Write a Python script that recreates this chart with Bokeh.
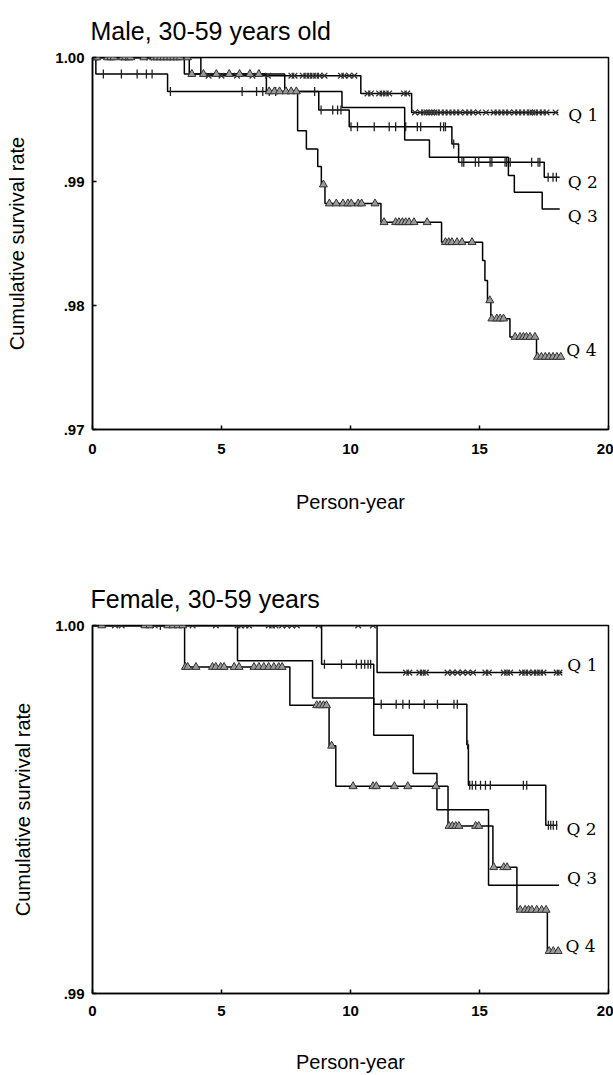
import numpy as np
from bokeh.plotting import figure
from bokeh.models import Range1d, FixedTicker, Label, Title
from bokeh.layouts import column
from bokeh.embed import file_html
from bokeh.resources import INLINE

# ---------------- shared axis data ----------------
x_ticks = [0, 5, 10, 15, 20]
x_tick_labels = ["0", "5", "10", "15", "20"]
x_label = "Person-year"
y_label = "Cumulative survival rate"
group_names = ["Q 1", "Q 2", "Q 3", "Q 4"]

# ---------------- Male, 30-59 years old ----------------
male_title = "Male, 30-59 years old"
male_y_ticks = [0.97, 0.98, 0.99, 1.00]
male_y_tick_labels = [".97", ".98", ".99", "1.00"]

male_q1_times = [4.20, 10.40, 12.37]
male_q1_surv = [0.99853, 0.99710, 0.99557]
male_q1_end = 18.05
male_q1_cens = [0.12, 1.2, 2.2, 4.5, 5.0, 5.6, 6.2, 6.8, 7.71, 7.83, 8.15, 8.29, 8.41,
                8.54, 8.67, 8.80, 8.99, 9.63, 9.76, 9.95, 10.15, 10.66, 10.79, 11.11,
                11.24, 11.37, 11.50, 12.07, 12.20, 12.5, 12.7, 12.85, 12.95, 13.05,
                13.15, 13.25, 13.35, 13.5, 13.65, 13.8, 13.95, 14.1, 14.25, 14.45,
                14.6, 14.75, 14.95, 15.25, 15.55, 15.7, 15.85, 16.0, 16.15, 16.35,
                16.5, 16.65, 16.8, 16.95, 17.05, 17.15, 17.3, 17.45, 17.6, 17.95]

male_q2_times = [0.13, 2.91, 8.77, 9.95, 13.93, 14.19, 17.51]
male_q2_surv = [0.99866, 0.99726, 0.99576, 0.99442, 0.99303, 0.99155, 0.99034]
male_q2_end = 18.11
male_q2_cens = [0.42, 1.12, 1.73, 2.09, 2.31, 3.02, 5.80, 6.36, 6.6, 6.85, 7.1, 8.61,
                8.86, 9.31, 9.50, 9.63, 10.02, 10.27, 10.92, 11.50, 11.75, 12.14,
                12.59, 12.72, 13.49, 13.61, 13.68, 14.00, 14.32, 14.39, 14.84, 14.97,
                15.41, 15.48, 15.99, 16.05, 16.19, 17.02, 17.27, 17.34, 17.66, 17.85,
                17.98]

male_q3_times = [3.56, 7.45, 9.67, 12.10, 13.06, 16.12, 16.35, 17.43]
male_q3_surv = [0.99866, 0.99726, 0.99597, 0.99335, 0.99195, 0.99048, 0.98913, 0.98779]
male_q3_end = 18.11

male_q4_times = [3.75, 6.74, 7.95, 8.29, 8.73, 8.87, 9.01, 11.18, 13.53, 15.12, 15.21,
                 15.31, 15.44, 16.18, 17.21]
male_q4_surv = [0.99866, 0.99726, 0.99410, 0.99262, 0.99120, 0.98975, 0.98822, 0.98671,
                0.98510, 0.98363, 0.98201, 0.98041, 0.97894, 0.97746, 0.97585]
male_q4_end = 18.17
male_q4_cens = [0.06, 0.17, 0.58, 0.71, 0.83, 1.16, 1.28, 1.41, 1.48, 1.99, 2.37, 2.50,
                2.63, 2.76, 2.89, 3.02, 3.14, 3.28, 3.40, 3.68, 3.85, 4.3, 4.8, 5.3,
                5.7, 6.1, 6.45, 6.85, 7.05, 7.25, 7.5, 7.7, 7.9, 8.95, 9.18, 9.45,
                9.71, 9.90, 10.03, 10.30, 10.43, 10.95, 11.30, 11.75, 11.88, 12.01,
                12.14, 12.27, 12.46, 12.97, 13.68, 13.81, 13.93, 14.13, 14.32, 14.71,
                15.40, 15.48, 15.67, 15.80, 15.93, 16.38, 16.57, 16.70, 16.82, 16.96,
                17.15, 17.25, 17.4, 17.55, 17.7, 17.85, 18.0, 18.15]

# ---------------- Female, 30-59 years ----------------
female_title = "Female, 30-59 years"
female_y_ticks = [0.99, 1.00]
female_y_tick_labels = [".99", "1.00"]

female_q1_times = [11.03]
female_q1_surv = [0.99872]
female_q1_end = 18.21
female_q1_cens = [0.87, 1.13, 2.41, 3.88, 4.78, 5.62, 5.74, 5.93, 6.07, 6.83, 6.96, 7.09,
                  7.35, 7.54, 7.73, 7.92, 8.76, 10.30, 10.87, 12.15, 12.28, 12.67, 12.8,
                  12.92, 13.76, 13.95, 14.15, 14.35, 14.55, 14.75, 15.23, 15.36, 15.94,
                  16.07, 16.19, 16.64, 16.77, 16.9, 17.09, 17.22, 17.35, 17.48, 17.99,
                  18.1]

female_q2_times = [8.88, 10.90, 14.51, 14.57, 17.57]
female_q2_surv = [0.99895, 0.99786, 0.99676, 0.99566, 0.99457]
female_q2_end = 18.02
female_q2_cens = [2.63, 8.99, 9.65, 10.23, 10.42, 10.55, 10.68, 10.78, 11.19, 11.77,
                  12.03, 12.28, 12.86, 13.37, 14.01, 14.14, 14.54, 14.62, 14.72, 14.85,
                  15.04, 15.23, 15.42, 16.7, 16.83, 17.67, 17.76, 17.86, 17.99]

female_q3_times = [5.62, 8.53, 10.90, 12.43, 13.35, 15.35]
female_q3_surv = [0.99904, 0.99803, 0.99702, 0.99598, 0.99499, 0.99294]
female_q3_end = 18.08

female_q4_times = [3.57, 7.65, 9.17, 9.43, 13.78, 15.52, 16.45, 17.63]
female_q4_surv = [0.99887, 0.99783, 0.99673, 0.99563, 0.99455, 0.99343, 0.99227, 0.99115]
female_q4_end = 18.14
female_q4_cens = [0.36, 2.03, 2.22, 2.92, 3.12, 3.31, 3.50, 3.60, 3.69, 4.01, 4.65, 4.78,
                  4.97, 5.10, 5.49, 5.68, 6.26, 6.45, 6.64, 6.83, 7.03, 7.22, 7.35, 8.69,
                  8.82, 8.95, 9.07, 9.27, 10.10, 10.87, 11.0, 11.70, 12.22, 13.31, 13.82,
                  13.95, 14.08, 14.20, 14.85, 14.97, 15.55, 15.94, 16.07, 16.58, 16.77,
                  16.9, 17.03, 17.22, 17.41, 17.58, 17.7, 17.86, 18.05]

SANS = "Liberation Sans"
SERIF = "DejaVu Serif"


def surv_at(ts, times, surv):
    idx = np.searchsorted(np.asarray(times), np.asarray(ts, dtype=float), side="right")
    full = np.concatenate([[1.0], np.asarray(surv)])
    return full[idx]


def make_panel(title, y_ticks, y_tick_labels, curves, height, borders, label_offsets,
               xlabel_standoff, ylabel_standoff, xtick_standoff, title_standoff):
    left, right, top, bottom = borders
    p = figure(width=613, height=height, x_range=Range1d(0, 20),
               y_range=Range1d(y_ticks[0], y_ticks[-1]), output_backend="svg",
               toolbar_location=None, title=None,
               min_border_left=left, min_border_right=right,
               min_border_top=top, min_border_bottom=bottom)
    p.background_fill_color = "white"
    p.border_fill_color = "white"
    p.xgrid.visible = False
    p.ygrid.visible = False
    p.outline_line_color = "black"
    p.outline_line_width = 1.5
    p.outline_line_alpha = 1.0

    for ax in (p.xaxis, p.yaxis):
        ax.axis_line_color = "black"
        ax.axis_line_width = 1.5
        ax.major_tick_line_color = "black"
        ax.major_tick_line_width = 1.5
        ax.minor_tick_line_color = None
        ax.major_tick_out = 0
        ax.major_tick_in = 4
        ax.major_label_text_font = SANS
        ax.major_label_text_font_style = "bold"
        ax.major_label_text_font_size = "15px"
        ax.major_label_text_color = "black"
        ax.axis_label_text_font = SANS
        ax.axis_label_text_font_style = "normal"
        ax.axis_label_text_font_size = "20px"
        ax.axis_label_text_color = "black"

    p.xaxis.ticker = FixedTicker(ticks=x_ticks)
    p.xaxis.major_label_overrides = dict(zip(x_ticks, x_tick_labels))
    p.xaxis.axis_label = x_label
    p.xaxis.major_label_standoff = xtick_standoff
    p.xaxis.axis_label_standoff = xlabel_standoff

    p.yaxis.ticker = FixedTicker(ticks=y_ticks)
    p.yaxis.major_label_overrides = dict(zip(y_ticks, y_tick_labels))
    p.yaxis.axis_label = y_label
    p.yaxis.major_label_standoff = 8
    p.yaxis.axis_label_standoff = ylabel_standoff

    # step curves
    for c in curves:
        xs = [0.0] + list(c["times"]) + [c["end"]]
        ys = [1.0] + list(c["surv"]) + [c["surv"][-1]]
        p.step(xs, ys, mode="after", line_color="black", line_width=1.5)

    # censoring marks
    for c in curves:
        if c.get("cens") is None:
            continue
        cy = surv_at(c["cens"], c["times"], c["surv"])
        if c["marker"] == "x":
            p.scatter(c["cens"], cy, marker="x", size=8, line_color="#333333",
                      line_width=1.3)
        elif c["marker"] == "cross":
            p.scatter(c["cens"], cy, marker="dash", angle=np.pi / 2, size=9,
                      line_color="#222222", line_width=1.3)
        else:
            p.scatter(c["cens"], cy, marker="triangle", size=8, fill_color="#9a9a9a",
                      line_color="#333333", line_width=1)

    # group labels at curve ends
    for c, name, (dx, dy) in zip(curves, group_names, label_offsets):
        p.add_layout(Label(x=c["end"], y=c["surv"][-1], x_offset=dx, y_offset=dy,
                           text=name, text_font=SERIF, text_font_size="17px",
                           text_baseline="middle", text_align="left",
                           text_color="black"))

    # panel title
    p.add_layout(Title(text=title, align="left", text_font=SANS,
                       text_font_size="25px", text_font_style="normal",
                       text_color="black", standoff=title_standoff, offset=-2), "above")
    return p


male_curves = [
    dict(times=male_q1_times, surv=male_q1_surv, end=male_q1_end, cens=male_q1_cens, marker="x"),
    dict(times=male_q2_times, surv=male_q2_surv, end=male_q2_end, cens=male_q2_cens, marker="cross"),
    dict(times=male_q3_times, surv=male_q3_surv, end=male_q3_end, cens=None, marker=None),
    dict(times=male_q4_times, surv=male_q4_surv, end=male_q4_end, cens=male_q4_cens, marker="triangle"),
]
female_curves = [
    dict(times=female_q1_times, surv=female_q1_surv, end=female_q1_end, cens=female_q1_cens, marker="x"),
    dict(times=female_q2_times, surv=female_q2_surv, end=female_q2_end, cens=female_q2_cens, marker="cross"),
    dict(times=female_q3_times, surv=female_q3_surv, end=female_q3_end, cens=None, marker=None),
    dict(times=female_q4_times, surv=female_q4_surv, end=female_q4_end, cens=female_q4_cens, marker="triangle"),
]

p1 = make_panel(male_title, male_y_ticks, male_y_tick_labels, male_curves, height=538,
                borders=(92, 2, 57, 109),
                label_offsets=[(10, -3), (8, -5), (8, -7), (5, 7)],
                xlabel_standoff=34, ylabel_standoff=24, xtick_standoff=14,
                title_standoff=25)
p2 = make_panel(female_title, female_y_ticks, female_y_tick_labels, female_curves, height=537,
                borders=(88, 5, 87, 77),
                label_offsets=[(5, 8), (9, -4), (8, 7), (5, 5)],
                xlabel_standoff=32, ylabel_standoff=18, xtick_standoff=12,
                title_standoff=26)

layout = column(p1, p2)
open("out.html", "w").write(file_html(layout, INLINE))
